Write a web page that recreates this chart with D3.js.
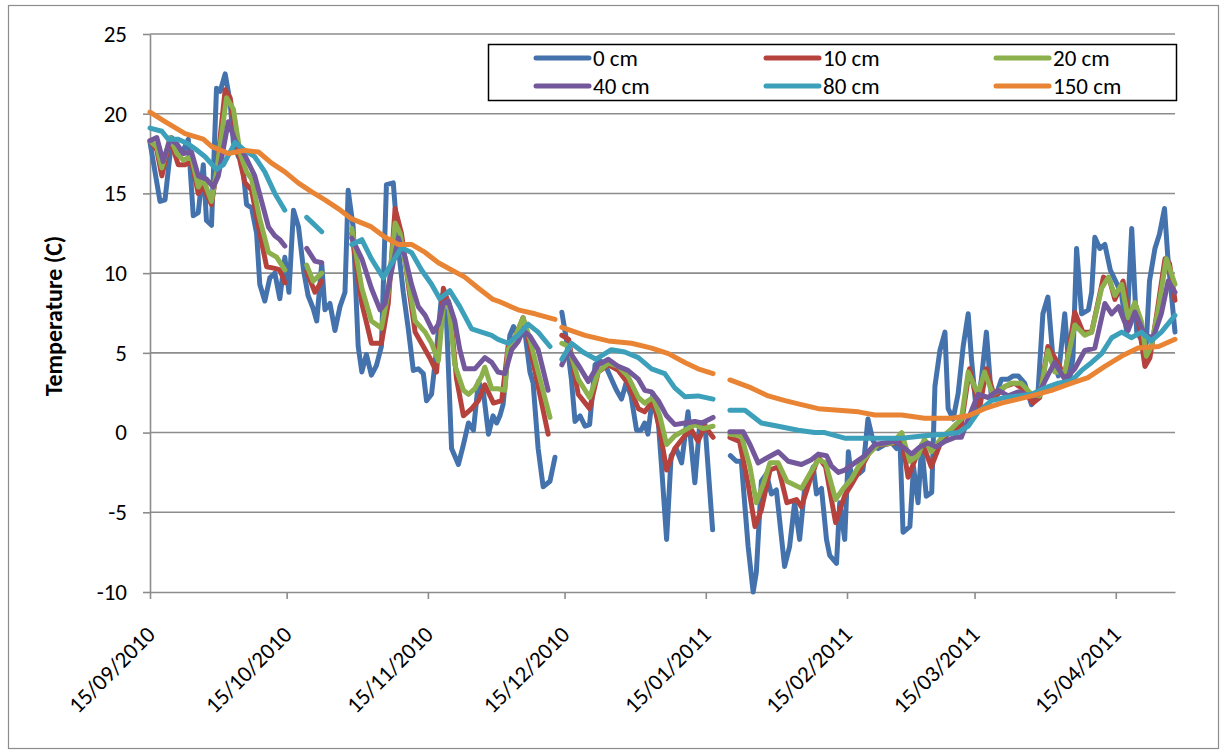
<!DOCTYPE html>
<html><head><meta charset="utf-8">
<script src="https://cdn.jsdelivr.net/npm/d3@7"></script>
<style>
body{margin:0;background:#fff;}
svg{display:block;font-family:Carlito,Calibri,Lato,sans-serif;}
</style></head><body>
<svg id="c" width="1221" height="753"></svg>
<script>
// ---- data (day offset from start date, temperature in C); null = gap ----
const startDate = "15/09/2010";
const endDate = "28/04/2011";
const xTickLabels = ["15/09/2010","15/10/2010","15/11/2010","15/12/2010","15/01/2011","15/02/2011","15/03/2011","15/04/2011"];
const yTicks = [-10,-5,0,5,10,15,20,25];
const seriesNames = ["0 cm","10 cm","20 cm","40 cm","80 cm","150 cm"];
const seriesColors = ["#4472AC","#B6423D","#8CB04B","#74589C","#3DA0BA","#E88433"];

const cm0 = [[0,18.2],[2.2,14.5],[3.3,14.6],[4.8,18.5],[5.9,17.7],[7.3,17.7],[8.4,18.4],[9.5,13.6],[10.6,13.8],[11.7,16.8],[12.4,13.3],[13.5,13.0],[14.6,21.6],[15.4,21.4],[16.5,22.5],[17.6,20.7],[18.3,18.2],[19.4,17.3],[20.1,17.4],[21.2,14.3],[22.3,14.1],[23.4,12.5],[24.1,9.3],[25.2,8.25],[26.3,9.7],[27.4,10.0],[28.5,8.4],[29.6,11.0],[30.5,8.8],[31.5,13.95],[32.6,12.9],[33.7,10.2],[34.7,8.6],[35.8,7.8],[36.6,7.0],[37.7,10.6],[38.4,7.7],[39.5,8.1],[40.6,6.4],[41.7,7.9],[42.8,8.8],[43.5,15.2],[44.6,12.9],[45.7,5.4],[46.5,3.8],[47.5,4.9],[48.6,3.6],[49.7,4.2],[50.8,5.4],[51.9,15.55],[53.4,15.66],[54.5,11.6],[55.6,8.8],[56.7,6.5],[57.8,3.9],[58.9,4.0],[60,3.7],[60.7,2.0],[61.8,2.4],[62.9,5.2],[64,8.6],[65.1,7.0],[66.2,-1.0],[67.7,-2.0],[68.8,-0.75],[69.9,0.6],[71,0.15],[72.1,3.2],[73.2,2.5],[74.3,-0.1],[75.3,1.05],[76.1,0.6],[76.8,1.05],[77.5,1.75],[79,6.1],[79.8,6.65],[80.8,6.1],[81.9,7.2],[83.4,3.8],[84.1,3.1],[85.2,-1.0],[86.3,-3.4],[87.8,-3.05],[88.9,-1.55],null,[90.4,7.55],[91.4,5.85],[92.5,3.35],[93.3,0.7],[94.4,1.05],[95.5,0.4],[96.5,0.5],[97.7,4.25],[98.8,4.5],[99.9,4.25],[101.3,3.35],[102.4,2.65],[103.5,2.1],[104.5,3.1],[105.6,2.3],[106.8,0.15],[107.8,0.15],[108.6,0.6],[109.3,-0.1],[110.4,2.45],[111.6,0.6],[112.3,-2.15],[113.4,-6.7],[114.4,-1.45],[115.5,-1.0],[116.7,-1.9],[118.1,1.3],[119.6,-3.15],[120.7,0.6],[121.8,0.6],[123.5,-6.1],null,[127.4,-1.45],[128.7,-1.8],[129.8,-1.8],[131.3,-7.15],[132.4,-10.0],[133.1,-8.75],[134.2,-3.05],[135.3,-2.6],[136.4,-3.85],[137.5,-3.6],[139.3,-8.4],[140.4,-7.15],[141.5,-4.4],[142.6,-6.7],[143.7,-3.5],[145.6,-2.15],[146.3,-3.85],[147.4,-3.5],[148.5,-6.7],[149.2,-7.7],[150.7,-8.2],[151.4,-4.4],[152.5,-6.7],[153.3,-1.2],[154,-2.9],[155.5,-2.6],[156.5,-2.35],[157.6,0.85],[158.7,-0.5],[159.8,-1.0],[161.3,-0.75],[162.8,-0.65],[163.9,-1.0],[164.6,-0.3],[165.3,-6.25],[166.8,-5.9],[167.6,-2.15],[168.6,-4.4],[169.4,-0.75],[170.4,-4.0],[171.6,-3.75],[172.3,2.9],[173.4,5.15],[174.5,6.3],[175.2,1.5],[176.3,0.85],[177.4,2.45],[178.5,5.4],[179.6,7.45],[180.3,4.7],[181.4,1.3],[182.5,3.35],[183.6,6.3],[184.7,2.2],[185.8,2.4],[186.9,3.35],[188.4,3.35],[189.5,3.55],[190.6,3.55],[192,3.1],[193.5,1.75],[194.9,2.4],[196,7.45],[197.1,8.5],[198.2,4.7],[199.4,3.55],[200.8,7.45],[201.9,3.35],[202.6,4.7],[203.4,11.55],[204.5,7.45],[206,7.7],[206.7,8.8],[207.4,12.25],[208.5,11.55],[209.6,11.8],[210.8,10.2],[212.3,9.3],[213.3,8.6],[214.4,6.3],[215.5,12.8],[216.6,6.3],[217.6,5.85],[218.7,5.6],[219.4,9.5],[220.6,11.55],[221.6,12.45],[222.7,14.05],[223.4,11.1],[225,6.3]];

const cm10 = [[0,18.3],[1.5,17.7],[2.6,16.1],[4.4,18.4],[6.2,16.8],[7.7,16.8],[9.1,17.0],[10.6,15.0],[11.7,15.4],[13.5,14.3],[14.6,16.35],[16.5,21.5],[17.6,21.0],[19.4,17.5],[20.8,15.7],[22.3,15.2],[24.1,12.5],[25.6,10.4],[27.4,10.3],[28.5,10.2],[29.6,9.4],null,[34.4,10.1],[36.2,8.8],[37.7,9.5],null,[44.3,12.5],[46.5,8.1],[48.6,5.6],[50.8,5.6],[52.3,8.1],[53.8,14.05],[55.2,12.5],[56.7,9.3],[58.2,6.3],[59.6,5.6],[61.4,4.7],[62.9,3.8],[64.4,9.05],[65.8,7.9],[67.3,3.35],[68.8,1.05],[70.6,1.5],[72.1,2.0],[73.5,3.0],[75.4,1.85],[77.2,2.0],[78.6,5.4],[80.3,6.1],[81.9,7.2],[83.4,5.4],[85.2,2.9],[87.4,-0.1],null,[90.4,6.1],[91.9,5.85],[94,2.4],[96.5,1.5],[98.4,3.8],[100.6,4.25],[102.8,3.9],[104.9,3.1],[107.2,1.5],[108.6,1.3],[110.4,2.0],[111.9,0.15],[113.4,-2.35],[115.2,-1.0],[117.4,-0.2],[118.9,0.15],[120.3,-0.55],[121.8,0.4],[123.6,-0.3],null,[127.3,-0.3],[129.4,-0.55],[131.3,-3.25],[132.8,-5.9],[134.2,-4.85],[136.1,-2.35],[137.9,-2.15],[139.8,-4.4],[141.9,-4.2],[143,-4.65],[144.8,-3.05],[146.7,-1.55],[148.3,-2.15],[150.5,-5.65],[152.5,-3.95],[154,-3.25],[156.2,-2.15],[158.4,-1.0],[160.6,-0.75],[163.5,-0.65],[165,-0.3],[166.4,-2.8],[168.3,-1.45],[170,-1.0],[171.5,-2.15],[173.8,-0.45],[175.2,-0.1],[176.7,0.15],[178.1,0.5],[179.9,4.0],[181,2.65],[182.1,1.5],[183.6,4.0],[185.4,2.2],[187.7,2.9],[189.8,3.1],[192,2.65],[193.8,1.85],[195.3,2.2],[197.1,5.4],[198.6,4.7],[200.8,3.55],[203,7.55],[204.8,6.3],[206.7,6.3],[209.3,9.75],[210.7,9.5],[211.8,8.35],[213.6,9.5],[215.1,7.0],[216.5,7.9],[218.4,4.15],[219.5,4.7],[221,7.45],[222.8,10.9],[223.8,10.6],[225,8.3]];

const cm20 = [[0,18.3],[1.5,17.9],[2.6,16.6],[4.4,18.5],[5.9,17.5],[7.3,17.1],[9.1,17.3],[10.6,15.4],[11.7,15.9],[13.5,14.5],[14.6,16.35],[16.8,21.0],[18.3,20.3],[19.8,17.5],[21.2,16.35],[22.3,15.9],[24.1,13.4],[26,11.3],[27.8,11.0],[29.6,10.2],null,[34.4,10.5],[35.8,9.5],[37.7,10.0],null,[44.3,12.8],[46.5,9.05],[48.6,7.0],[50.8,6.55],[52.3,8.8],[53.8,13.15],[54.9,12.5],[56.7,9.5],[58.2,7.0],[60.4,6.3],[61.8,5.6],[63.3,4.5],[64.4,7.9],[65.5,8.25],[66.9,4.25],[68.8,2.65],[69.9,2.4],[71.3,2.75],[72.8,3.55],[73.5,4.1],[75,2.75],[76.4,2.75],[77.9,2.65],[78.6,5.2],[80.3,6.1],[81.9,7.2],[83.4,5.85],[85.2,3.8],[87.8,0.95],null,[90.4,5.6],[91.9,5.4],[94,3.35],[96.5,2.2],[98.4,3.8],[100.6,4.35],[102.8,4.15],[104.9,3.55],[107.2,2.2],[108.6,1.85],[110.4,2.2],[111.9,1.05],[113.4,-0.75],[115.2,-0.2],[117.4,0.15],[119.6,0.5],[121.4,0.25],[123.6,0.4],null,[127.3,-0.1],[129.8,-0.2],[131.7,-2.15],[133.1,-4.4],[134.6,-3.25],[136.1,-1.9],[137.9,-1.9],[139.8,-3.05],[141.6,-3.3],[143,-3.5],[144.8,-2.6],[146.7,-1.7],[148.3,-1.9],[150.5,-4.2],[152.2,-3.5],[154,-2.9],[155.5,-2.15],[157.7,-1.35],[159.9,-0.75],[163,-0.65],[165,0.0],[166.8,-1.8],[168.6,-1.45],[170,-0.4],[171.5,-1.2],[173.8,-0.3],[176,0.25],[178.1,0.85],[179.6,3.8],[180.7,3.1],[181.8,2.4],[183.2,3.8],[185,2.4],[186.9,2.75],[189,3.1],[191.2,3.1],[193.5,2.4],[195.3,2.3],[197.1,5.15],[198.6,3.8],[200.8,3.8],[203,6.75],[205.2,6.1],[206.7,6.3],[208.9,9.05],[210.4,9.75],[211.8,8.6],[213.3,9.3],[214.7,7.2],[216.2,8.15],[217.6,7.0],[218.7,4.8],[219.8,5.4],[221.3,7.7],[223.1,10.9],[225,9.3]];

const cm40 = [[0,18.3],[1.5,18.5],[2.9,17.0],[4.4,18.4],[5.9,18.1],[7.3,17.5],[9.1,17.6],[10.6,16.1],[12.4,15.9],[13.9,15.4],[15,16.1],[17.2,19.5],[18.7,18.3],[20.8,17.4],[23,16.1],[24.5,14.5],[26,12.9],[27.4,12.35],[28.5,12.1],[29.6,11.7],null,[34.4,11.55],[36.2,10.75],[37.7,10.65],null,[44.3,12.2],[46.5,10.9],[48.6,9.05],[50.5,7.7],[51.6,8.1],[53.4,10.65],[54.5,12.2],[56,11.0],[57.4,9.3],[58.9,7.9],[60.4,7.35],[62.2,6.3],[63.3,6.8],[64.4,8.1],[65.5,8.25],[66.9,7.0],[68,5.2],[69.1,4.0],[71.3,4.0],[73.5,4.7],[75,4.4],[76.4,3.8],[77.9,3.7],[79.4,5.2],[80.8,5.7],[81.9,6.4],[83.4,6.05],[85.2,5.2],[87.4,2.65],null,[90.4,4.25],[91.9,5.15],[94,4.25],[96.2,3.2],[98.4,4.25],[100.6,4.6],[102.8,4.15],[104.9,3.9],[107.2,3.35],[108.6,2.65],[110.1,2.55],[111.6,2.0],[113.4,1.05],[115.2,0.5],[117.4,0.6],[119.6,0.7],[121.1,0.6],[123.6,0.95],null,[127.3,0.05],[130.2,0.05],[131.7,-0.75],[133.5,-1.9],[135.7,-1.55],[137.9,-1.2],[140.1,-1.8],[143,-2.0],[145.2,-1.7],[146.7,-1.35],[148.5,-1.45],[149.6,-2.1],[151.1,-2.5],[152.5,-2.35],[154.7,-1.9],[156.9,-1.45],[159.1,-0.75],[161.3,-0.65],[163.5,-0.55],[165.7,-1.0],[167.2,-1.35],[169,-0.9],[170.8,-0.65],[172.6,-0.9],[174.5,-0.55],[176.7,-0.3],[178.1,-0.3],[179.6,0.85],[181.8,2.4],[184,2.2],[186.2,2.65],[188.4,2.3],[190.6,2.55],[192.8,2.3],[195,2.4],[197.1,3.6],[198.6,4.4],[200.8,3.35],[203,4.0],[205.2,5.15],[207.4,5.3],[209.6,8.1],[211.1,7.45],[212.6,7.9],[214.7,6.4],[216.2,7.55],[218.4,6.1],[220.2,5.95],[222,7.45],[223.5,9.5],[225,8.8]];

const cm80 = [[0,19.1],[2.6,18.9],[4,18.4],[6.2,18.4],[8.4,18.1],[9.9,17.8],[12.1,17.3],[14.6,16.5],[16.1,16.8],[18.7,18.2],[20.8,17.7],[23,17.3],[25.2,16.35],[27.4,15.0],[29.6,13.95],null,[34.4,13.5],[37.7,12.6],null,[44.3,11.8],[46.5,12.1],[48.6,10.9],[51.2,9.7],[53,10.6],[55.2,11.6],[57.4,11.3],[59.6,10.2],[61.8,9.3],[63.6,8.4],[65.8,8.9],[68,7.9],[70.6,6.5],[72.8,6.3],[75,6.1],[76.4,5.85],[78.6,5.6],[80.8,6.1],[83,6.8],[85.2,6.3],[87.8,5.4],null,[90.4,4.6],[92.5,5.6],[95,5.05],[97.9,4.6],[101.3,5.2],[104.2,5.05],[107.2,4.7],[110.1,4.0],[113,3.7],[115.2,2.8],[117.4,2.25],[120.3,2.3],[123.6,2.1],null,[127.3,1.4],[130.6,1.4],[134.2,0.6],[137.9,0.4],[142.3,0.15],[145.9,0.0],[148.1,0.0],[152.5,-0.35],[159.1,-0.35],[165,-0.35],[170,-0.2],[174.5,-0.1],[177.4,0.0],[179.6,0.4],[181.8,1.3],[184.7,2.0],[187.7,2.2],[190.6,2.3],[193.5,2.4],[196.5,2.8],[199.4,3.1],[202.3,3.25],[204.5,3.9],[206.7,4.4],[208.9,4.95],[211.1,5.95],[213.3,6.3],[215.4,5.95],[217.6,6.3],[219.8,5.75],[222,6.3],[225,7.35]];

const cm150 = [[0,20.1],[3.3,19.5],[7.7,18.75],[11.7,18.4],[13.5,17.95],[17.2,17.5],[20.8,17.7],[23.8,17.6],[26.7,16.9],[29.6,16.35],[32.6,15.65],[35.5,15.1],[38.4,14.6],[41.3,14.05],[44.3,13.4],[48.6,12.9],[51.6,12.25],[54.5,11.8],[57.4,11.8],[60.4,11.3],[63.3,10.65],[66.2,10.2],[69.1,9.75],[72.1,9.05],[75.3,8.35],[76.4,8.25],[80.8,7.7],[84.5,7.45],[88.9,7.1],null,[90.4,6.6],[95.5,6.1],[100.6,5.75],[105.7,5.6],[110.1,5.3],[113.8,4.95],[117.4,4.4],[120.3,4.0],[123.6,3.7],null,[127.3,3.3],[132,2.8],[135.7,2.3],[139.4,2.0],[143,1.75],[146.7,1.5],[155.5,1.3],[159.1,1.1],[165,1.1],[170,0.9],[175.9,0.9],[179.6,1.05],[183.2,1.5],[186.9,1.85],[190.6,2.1],[193.5,2.3],[197.9,2.65],[202.3,3.1],[205.9,3.45],[209.6,4.15],[213.3,4.8],[216.9,5.3],[221.4,5.4],[225,5.85]];

const seriesData = [cm0, cm10, cm20, cm40, cm80, cm150];

// ---- drawing ----
const svg = d3.select("#c");
const W = 1221, H = 753;
const margin = {left:150, right:46, top:34, bottom:161};
const parse = d3.utcParse("%d/%m/%Y");
const t0 = parse(startDate), t1 = parse(endDate);
const x = d3.scaleUtc().domain([t0, t1]).range([margin.left, W - margin.right]);
const y = d3.scaleLinear().domain([-10, 25]).range([H - margin.bottom, margin.top]);
const dayToDate = d => new Date(t0.getTime() + d * 864e5);
const FONT = "Carlito,Calibri,Lato,sans-serif";

// chart border
svg.append("rect").attr("x", 8.5).attr("y", 5.5).attr("width", 1210).attr("height", 743)
  .attr("fill", "#fff").attr("stroke", "#8c8c8c").attr("stroke-width", 1.2);

// gridlines
svg.append("g").selectAll("line").data(yTicks.filter(v => v > -10)).join("line")
  .attr("x1", margin.left).attr("x2", W - margin.right)
  .attr("y1", d => y(d)).attr("y2", d => y(d))
  .attr("stroke", "#8c8c8c").attr("stroke-width", 1.6);

// y axis
const yAxis = svg.append("g").attr("transform", `translate(${margin.left},0)`)
  .call(d3.axisLeft(y).tickValues(yTicks).tickSize(7).tickPadding(16).tickSizeOuter(0)
    .tickFormat(d => String(d)));
yAxis.select(".domain").attr("stroke", "#8c8c8c").attr("stroke-width", 1.6);
yAxis.selectAll(".tick line").attr("stroke", "#8c8c8c").attr("stroke-width", 1.6);
yAxis.selectAll(".tick text").attr("font-size", 23).attr("fill", "#000").attr("font-family", FONT);

// x axis
const xTickDates = xTickLabels.map(parse);
const xAxis = svg.append("g").attr("transform", `translate(0,${H - margin.bottom})`)
  .call(d3.axisBottom(x).tickValues(xTickDates).tickSize(7).tickSizeOuter(0)
    .tickFormat((d, i) => xTickLabels[i]));
xAxis.select(".domain").attr("stroke", "#8c8c8c").attr("stroke-width", 1.6);
xAxis.selectAll(".tick line").attr("stroke", "#8c8c8c").attr("stroke-width", 1.6);
xAxis.selectAll(".tick text").attr("font-size", 23).attr("fill", "#000").attr("font-family", FONT)
  .attr("text-anchor", "end").attr("dy", null).attr("y", null)
  .attr("transform", "translate(6,44) rotate(-45)");

// axis title
svg.append("text").attr("transform", `translate(62,${(margin.top + H - margin.bottom) / 2 + 3}) rotate(-90)`)
  .attr("text-anchor", "middle").attr("font-size", 24).attr("font-weight", "bold")
  .attr("font-family", FONT).text("Temperature (C)");

// series lines
const line = d3.line().defined(p => p != null)
  .x(p => x(dayToDate(p[0]))).y(p => y(p[1]));
svg.append("g").selectAll("path").data(seriesData).join("path")
  .attr("d", d => line(d)).attr("fill", "none")
  .attr("stroke", (d, i) => seriesColors[i]).attr("stroke-width", 5)
  .attr("stroke-linejoin", "round").attr("stroke-linecap", "round");

// legend
const lg = svg.append("g");
lg.append("rect").attr("x", 488.5).attr("y", 44.5).attr("width", 688).attr("height", 56)
  .attr("fill", "#fff").attr("stroke", "#000").attr("stroke-width", 1.5);
const items = lg.selectAll("g.item").data(seriesNames).join("g").attr("class", "item")
  .attr("transform", (d, i) => `translate(${536 + (i % 3) * 230},${i < 3 ? 58 : 86})`);
items.append("line").attr("x1", 0).attr("x2", 53).attr("y1", 0).attr("y2", 0)
  .attr("stroke", (d, i) => seriesColors[i]).attr("stroke-width", 5).attr("stroke-linecap", "round");
items.append("text").attr("x", 57).attr("dy", "0.35em").attr("font-size", 23)
  .attr("font-family", FONT).text(d => d);
</script>
</body></html>
